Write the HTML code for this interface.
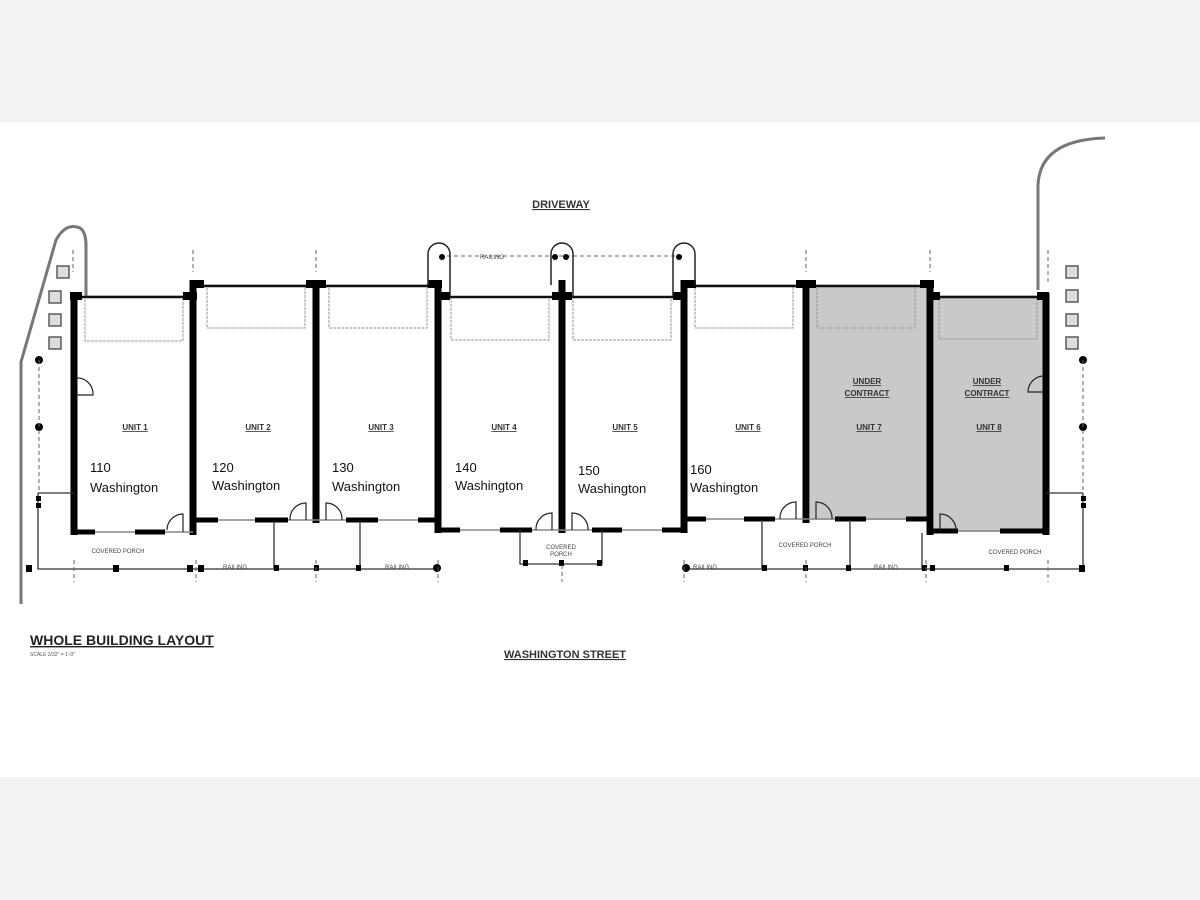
<!DOCTYPE html>
<html><head><meta charset="utf-8"><style>
html,body{margin:0;padding:0;background:#f2f2f2;}
svg{display:block;}
text{font-family:"Liberation Sans",sans-serif;}
</style></head><body>
<svg width="1200" height="900" viewBox="0 0 1200 900" xmlns="http://www.w3.org/2000/svg">
<rect x="0" y="0" width="1200" height="900" fill="#f2f2f2"/>
<rect x="0" y="122" width="1200" height="655" fill="#fff"/>

<rect x="810" y="285" width="120" height="235" fill="#c9c9c9"/>
<rect x="934" y="296" width="112" height="236" fill="#c9c9c9"/>

<g fill="none" stroke="#777" stroke-width="3">
<path d="M21 604 L21 362 L56 240 Q66 222 80 228 Q86 232 86 246 L86 296"/>
<path d="M1038 290 L1038 185 Q1040 140 1105 138"/>
</g>

<g fill="none" stroke="#999" stroke-width="1" stroke-dasharray="3,1">
<rect x="85" y="296" width="98" height="45"/>
<rect x="207" y="285" width="98" height="43"/>
<rect x="329" y="285" width="98" height="43"/>
<rect x="451" y="297" width="98" height="43"/>
<rect x="573" y="297" width="98" height="43"/>
<rect x="695" y="285" width="98" height="43"/>
<rect x="817" y="285" width="98" height="43"/>
<rect x="939" y="296" width="98" height="43"/>
</g>

<g stroke="#111" stroke-width="2.5">
<line x1="73" y1="297" x2="193" y2="297"/>
<line x1="193" y1="286" x2="438" y2="286"/>
<line x1="438" y1="297" x2="684" y2="297"/>
<line x1="684" y1="286" x2="930" y2="286"/>
<line x1="930" y1="297" x2="1046" y2="297"/>
</g>
<g fill="#000">
<rect x="70" y="292" width="12" height="8"/><rect x="183" y="292" width="14" height="8"/>
<rect x="190" y="280" width="14" height="8"/><rect x="306" y="280" width="20" height="8"/><rect x="428" y="280" width="14" height="8"/>
<rect x="436" y="292" width="14" height="8"/><rect x="552" y="292" width="20" height="8"/><rect x="673" y="292" width="14" height="8"/>
<rect x="682" y="280" width="14" height="8"/><rect x="796" y="280" width="20" height="8"/><rect x="920" y="280" width="14" height="8"/>
<rect x="928" y="292" width="12" height="8"/><rect x="1037" y="292" width="12" height="8"/>
</g>

<g stroke="#000" stroke-width="7" fill="none">
<line x1="74" y1="293" x2="74" y2="535"/>
<line x1="193" y1="280" x2="193" y2="535"/>
<line x1="316" y1="280" x2="316" y2="523"/>
<line x1="438" y1="280" x2="438" y2="533"/>
<line x1="562" y1="280" x2="562" y2="533"/>
<line x1="684" y1="280" x2="684" y2="533"/>
<line x1="806" y1="280" x2="806" y2="523"/>
<line x1="930" y1="280" x2="930" y2="535"/>
<line x1="1046" y1="293" x2="1046" y2="535"/>
</g>
<g stroke="#888" stroke-width="1.5">
<line x1="74" y1="532" x2="193" y2="532"/><line x1="193" y1="520" x2="438" y2="520"/>
<line x1="438" y1="530" x2="684" y2="530"/><line x1="684" y1="519" x2="930" y2="519"/>
<line x1="930" y1="531" x2="1046" y2="531"/>
</g>
<g stroke="#000" stroke-width="5">
<line x1="74" y1="532" x2="95" y2="532"/><line x1="135" y1="532" x2="165" y2="532"/>
<line x1="193" y1="520" x2="218" y2="520"/><line x1="255" y1="520" x2="288" y2="520"/>
<line x1="346" y1="520" x2="378" y2="520"/><line x1="418" y1="520" x2="438" y2="520"/>
<line x1="438" y1="530" x2="460" y2="530"/><line x1="500" y1="530" x2="532" y2="530"/>
<line x1="592" y1="530" x2="622" y2="530"/><line x1="662" y1="530" x2="684" y2="530"/>
<line x1="684" y1="519" x2="706" y2="519"/><line x1="744" y1="519" x2="775" y2="519"/>
<line x1="835" y1="519" x2="866" y2="519"/><line x1="906" y1="519" x2="930" y2="519"/>
<line x1="930" y1="531" x2="958" y2="531"/><line x1="1000" y1="531" x2="1046" y2="531"/>
</g>
<g fill="none" stroke="#222" stroke-width="1.2">
<path d="M183 532 L183 514 A16 16 0 0 0 167 530"/>
<path d="M306 520 L306 503 A16 16 0 0 0 290 520"/>
<path d="M326 520 L326 503 A16 16 0 0 1 342 520"/>
<path d="M552 530 L552 513 A16 16 0 0 0 536 530"/>
<path d="M572 530 L572 513 A16 16 0 0 1 588 530"/>
<path d="M796 519 L796 502 A16 16 0 0 0 780 519"/>
<path d="M816 519 L816 502 A16 16 0 0 1 832 519"/>
<path d="M940 531 L940 514 A16 16 0 0 1 956 531"/>
<path d="M76 395 L93 395 A16 16 0 0 0 76 378"/>
<path d="M1044 392 L1028 392 A16 16 0 0 1 1044 376"/>
</g>

<g stroke="#333" stroke-width="1.3" fill="none">
<path d="M38 493 L38 569 L196 569"/>
<line x1="38" y1="493" x2="74" y2="493"/>
<line x1="196" y1="569" x2="438" y2="569"/>
<line x1="274" y1="521" x2="274" y2="569"/>
<line x1="360" y1="521" x2="360" y2="569"/>
<path d="M520 530 L520 564 L602 564 L602 530"/>
<line x1="684" y1="569" x2="1083" y2="569"/>
<line x1="762" y1="520" x2="762" y2="569"/>
<line x1="850" y1="520" x2="850" y2="569"/>
<path d="M1083 493 L1083 569"/>
<line x1="1046" y1="493" x2="1083" y2="493"/>
<line x1="922" y1="533" x2="922" y2="569"/>
</g>
<g fill="#000">
<rect x="26" y="565" width="6" height="7"/><rect x="113" y="565" width="6" height="7"/>
<rect x="187" y="565" width="6" height="7"/><rect x="198" y="565" width="6" height="7"/>
<rect x="274" y="565" width="5" height="6"/><rect x="314" y="565" width="5" height="6"/>
<rect x="356" y="565" width="5" height="6"/><circle cx="437" cy="568" r="4"/>
<rect x="523" y="560" width="5" height="6"/><rect x="559" y="560" width="5" height="6"/><rect x="597" y="560" width="5" height="6"/>
<circle cx="686" cy="568" r="4"/><rect x="762" y="565" width="5" height="6"/><rect x="803" y="565" width="5" height="6"/>
<rect x="846" y="565" width="5" height="6"/><rect x="922" y="565" width="5" height="6"/><rect x="930" y="565" width="5" height="6"/>
<rect x="1004" y="565" width="5" height="6"/><rect x="1079" y="565" width="6" height="7"/>
<circle cx="39" cy="360" r="4"/><circle cx="39" cy="427" r="4"/>
<circle cx="1083" cy="360" r="4"/><circle cx="1083" cy="427" r="4"/>
<rect x="36" y="496" width="5" height="5"/><rect x="36" y="503" width="5" height="5"/>
<rect x="1081" y="496" width="5" height="5"/><rect x="1081" y="503" width="5" height="5"/>
</g>
<g stroke="#666" stroke-width="1" stroke-dasharray="4,3" fill="none">
<line x1="39" y1="360" x2="39" y2="493"/><line x1="1083" y1="360" x2="1083" y2="493"/>
<line x1="193" y1="250" x2="193" y2="272"/><line x1="316" y1="250" x2="316" y2="272"/>
<line x1="806" y1="250" x2="806" y2="272"/><line x1="930" y1="250" x2="930" y2="272"/>
<line x1="73" y1="250" x2="73" y2="272"/><line x1="1048" y1="250" x2="1048" y2="285"/>
<line x1="74" y1="560" x2="74" y2="582"/><line x1="196" y1="560" x2="196" y2="582"/>
<line x1="316" y1="560" x2="316" y2="582"/><line x1="438" y1="560" x2="438" y2="582"/>
<line x1="562" y1="565" x2="562" y2="582"/><line x1="684" y1="560" x2="684" y2="582"/>
<line x1="806" y1="560" x2="806" y2="582"/><line x1="926" y1="560" x2="926" y2="582"/>
<line x1="1048" y1="560" x2="1048" y2="582"/>
<line x1="440" y1="256" x2="684" y2="256"/>
</g>

<g fill="none" stroke="#222" stroke-width="1.5">
<path d="M428 285 L428 254 A11 11 0 0 1 450 254 L450 296"/>
<path d="M551 285 L551 254 A11 11 0 0 1 573 254 L573 296"/>
<path d="M673 296 L673 254 A11 11 0 0 1 695 254 L695 285"/>
</g>
<g fill="#000"><circle cx="442" cy="257" r="3"/><circle cx="555" cy="257" r="3"/><circle cx="566" cy="257" r="3"/><circle cx="679" cy="257" r="3"/></g>

<g fill="#ddd" stroke="#444" stroke-width="1.3">
<rect x="57" y="266" width="12" height="12"/><rect x="49" y="291" width="12" height="12"/>
<rect x="49" y="314" width="12" height="12"/><rect x="49" y="337" width="12" height="12"/>
<rect x="1066" y="266" width="12" height="12"/><rect x="1066" y="290" width="12" height="12"/>
<rect x="1066" y="314" width="12" height="12"/><rect x="1066" y="337" width="12" height="12"/>
</g>

<g font-size="8" font-weight="bold" fill="#333" text-anchor="middle" text-decoration="underline">
<text x="135" y="430">UNIT 1</text><text x="258" y="430">UNIT 2</text><text x="381" y="430">UNIT 3</text>
<text x="504" y="430">UNIT 4</text><text x="625" y="430">UNIT 5</text><text x="748" y="430">UNIT 6</text>
<text x="869" y="430">UNIT 7</text><text x="989" y="430">UNIT 8</text>
<text x="867" y="384">UNDER</text><text x="867" y="396">CONTRACT</text>
<text x="987" y="384">UNDER</text><text x="987" y="396">CONTRACT</text>
</g>
<g font-size="6" fill="#444" text-anchor="middle">
<text x="118" y="553">COVERED PORCH</text><text x="805" y="547">COVERED PORCH</text><text x="1015" y="554">COVERED PORCH</text>
<text x="561" y="549">COVERED</text><text x="561" y="556">PORCH</text>
<text x="235" y="569">RAILING</text><text x="397" y="569">RAILING</text><text x="705" y="569">RAILING</text><text x="886" y="569">RAILING</text>
<text x="492" y="259">RAILING</text>
</g>
<g font-size="13" fill="#111">
<text x="90" y="472">110</text><text x="90" y="492">Washington</text>
<text x="212" y="472">120</text><text x="212" y="490">Washington</text>
<text x="332" y="472">130</text><text x="332" y="491">Washington</text>
<text x="455" y="472">140</text><text x="455" y="490">Washington</text>
<text x="578" y="475">150</text><text x="578" y="493">Washington</text>
<text x="690" y="474">160</text><text x="690" y="492">Washington</text>
</g>
<text x="561" y="208" font-size="11" font-weight="bold" fill="#333" text-anchor="middle" text-decoration="underline">DRIVEWAY</text>
<text x="565" y="658" font-size="11" font-weight="bold" fill="#333" text-anchor="middle" text-decoration="underline">WASHINGTON STREET</text>
<text x="30" y="645" font-size="14" font-weight="bold" fill="#222" text-decoration="underline">WHOLE BUILDING LAYOUT</text>
<text x="30" y="656" font-size="5" fill="#555">SCALE 3/32" = 1'-0"</text>
</svg>
</body></html>
